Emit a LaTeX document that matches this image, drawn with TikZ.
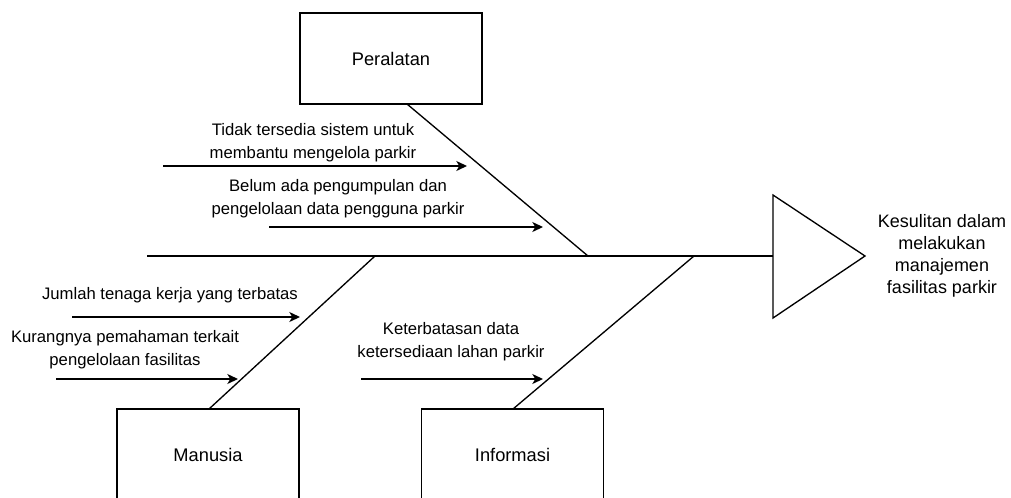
\documentclass[tikz,border=0pt]{standalone}
\usepackage{fontspec}
\setmainfont{Liberation Sans}
\usetikzlibrary{arrows.meta}
\begin{document}
\begin{tikzpicture}[x=0.75pt,y=-0.75pt,
  line/.style={line width=1pt,draw=black},
  catbox/.style={line, rectangle, minimum width=136.5pt, minimum height=68.25pt, inner sep=0pt, outer sep=0pt, font=\fontsize{13.7}{17}\selectfont},
  lbl/.style={align=center, inner sep=0pt, font=\fontsize{12.5}{17}\selectfont},
  efflbl/.style={align=center, inner sep=0pt, font=\fontsize{13.5}{16.4}\selectfont},
  causearrow/.style={line, -{Stealth[length=8pt,width=7.5pt,inset=2.2pt]}}]
\useasboundingbox (0,0) rectangle (1011,497);
\clip (0,0) rectangle (1011,497);

% category boxes
\node[catbox] (per) at (391,58.5) {Peralatan};
\node[catbox] (man) at (208,454.5) {Manusia};
\node[catbox] (inf) at (512.5,454.5) {Informasi};

% spine and head
\coordinate (tail) at (147,256);
\coordinate (head) at (773,256);
\coordinate (htop) at (773,195);
\coordinate (hbot) at (773,318);
\coordinate (htip) at (865,256);
\draw[line] (tail) -- (head);
\draw[line, line join=miter] (htop) -- (htip) -- (hbot) -- cycle;
\node[efflbl] (effect) at (942,256) {Kesulitan dalam\\melakukan\\manajemen\\fasilitas parkir};

% bones
\coordinate (pb) at (407,104);
\coordinate (pj) at (588,256);
\coordinate (mb) at (209,409);
\coordinate (mj) at (375,256);
\coordinate (ib) at (513,409);
\coordinate (ij) at (694,256);
\draw[line] (pb) -- (pj);
\draw[line] (mb) -- (mj);
\draw[line] (ib) -- (ij);

% causes
\node[lbl] (c1) at (313,143) {Tidak tersedia sistem untuk\\membantu mengelola parkir};
\node[lbl] (c2) at (338,199) {Belum ada pengumpulan dan\\pengelolaan data pengguna parkir};
\node[lbl] (c3) at (170,295) {Jumlah tenaga kerja yang terbatas};
\node[lbl] (c4) at (125,349.5) {Kurangnya pemahaman terkait\\pengelolaan fasilitas};
\node[lbl] (c5) at (451,341.5) {Keterbatasan data\\ketersediaan lahan parkir};

\coordinate (a1s) at (163,166); \coordinate (a1e) at (467,166);
\coordinate (a2s) at (269,227); \coordinate (a2e) at (543,227);
\coordinate (a3s) at (72,317);  \coordinate (a3e) at (300,317);
\coordinate (a4s) at (56,379);  \coordinate (a4e) at (238,379);
\coordinate (a5s) at (361,379); \coordinate (a5e) at (543,379);
\draw[causearrow] (a1s) -- (a1e);
\draw[causearrow] (a2s) -- (a2e);
\draw[causearrow] (a3s) -- (a3e);
\draw[causearrow] (a4s) -- (a4e);
\draw[causearrow] (a5s) -- (a5e);
\end{tikzpicture}
\end{document}
